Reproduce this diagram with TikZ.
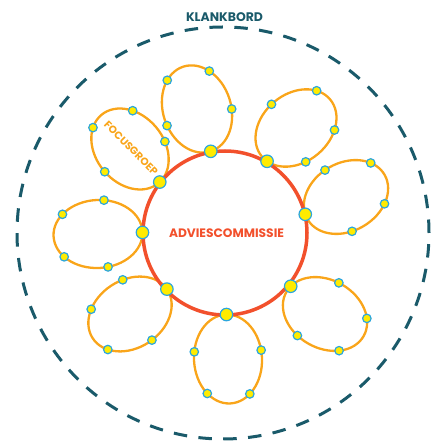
\documentclass[tikz,border=0pt]{standalone}
\usepackage{fontspec}
\setmainfont{Poppins}
\usetikzlibrary{shapes.geometric}
\definecolor{klank}{HTML}{1A5A6A}
\definecolor{advies}{HTML}{F2502C}
\definecolor{petalc}{HTML}{F9A51A}
\definecolor{dotfill}{HTML}{FFEB00}
\definecolor{dotline}{HTML}{2BA6DE}
\begin{document}
\begin{tikzpicture}[x=1pt,y=1pt,
  petal/.style={ellipse, draw=petalc, line width=2.3pt, minimum width=89pt, minimum height=68pt, inner sep=0pt, outer sep=0pt},
  sdot/.style={circle, fill=dotfill, draw=dotline, line width=1.2pt, minimum size=8.5pt, inner sep=0pt},
  bdot/.style={sdot, minimum size=12.5pt},
  lbl/.style={font=\bfseries, inner sep=0pt}
]
\useasboundingbox (0,0) rectangle (432,441);
\node[circle, draw=klank, line width=3pt, dash pattern=on 13.5pt off 11.4pt, minimum size=412pt, inner sep=0pt] (klank) at (223,208) {};
\node[lbl, text=klank] (klanklabel) at (224.5,424.3) {\resizebox{77pt}{!}{KLANKBORD}};
% petals
\node[petal, rotate=108] (e1) at (197,332) {};
\node[petal, rotate=40] (e2) at (296,313) {};
\node[petal, rotate=30] (e3) at (346,244) {};
\node[petal, rotate=-30] (e4) at (325,127) {};
\node[petal, rotate=-87] (e5) at (228,82) {};
\node[petal, rotate=-147] (e6) at (130,127) {};
\node[petal, rotate=-177] (e7) at (98,207) {};
\node[petal, rotate=130] (e8) at (130,292) {};
\node[lbl, text=petalc, rotate=-45] (focus) at (131,293) {\resizebox{71pt}{!}{FOCUSGROEP}};
% centre
\node[circle, draw=advies, line width=3.5pt, minimum size=164pt, inner sep=0pt] (advies) at (225,208) {};
\node[lbl, text=advies] (advieslabel) at (226.5,208) {\resizebox{115pt}{!}{ADVIESCOMMISSIE}};
% dots
\foreach \a [count=\i] in {28,-36,-108,101} \node[sdot] (e1d\i) at (e1.\a) {};
\foreach \a [count=\i] in {96.2,21,-43,-114.7} \node[sdot] (e2d\i) at (e2.\a) {};
\foreach \a [count=\i] in {98.9,24.8,-40.4,-110} \node[sdot] (e3d\i) at (e3.\a) {};
\foreach \a [count=\i] in {96.4,24.6,-39.6,-112.4} \node[sdot] (e4d\i) at (e4.\a) {};
\foreach \a [count=\i] in {-105,102.7,-34.2,29.6} \node[sdot] (e5d\i) at (e5.\a) {};
\foreach \a [count=\i] in {-111,-40.5,25.6,97.2} \node[sdot] (e6d\i) at (e6.\a) {};
\foreach \a [count=\i] in {-103,-32,31,104.4} \node[sdot] (e7d\i) at (e7.\a) {};
\foreach \a [count=\i] in {20.4,-44.6,-118,92.6} \node[sdot] (e8d\i) at (e8.\a) {};
\node[bdot] (e1b) at (e1.180) {};
\node[bdot] (e2b) at (e2.189.5) {};
\node[bdot] (e3b) at (e3.173) {};
\node[bdot] (e4b) at (e4.171.3) {};
\node[bdot] (e5b) at (e5.179.6) {};
\node[bdot] (e6b) at (e6.181.8) {};
\node[bdot] (e7b) at (e7.179.5) {};
\node[bdot] (e8b) at (e8.-178.6) {};
\end{tikzpicture}
\end{document}
